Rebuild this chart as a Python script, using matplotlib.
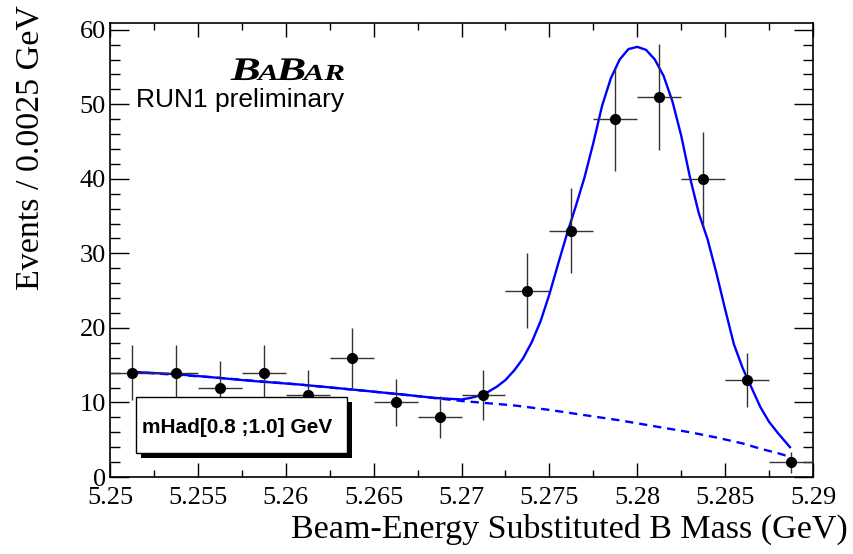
import numpy as np
import matplotlib
matplotlib.use("Agg")
import matplotlib.pyplot as plt
from matplotlib.ticker import MultipleLocator, FixedLocator, FixedFormatter
from matplotlib.textpath import TextPath
from matplotlib.patches import PathPatch, Rectangle
from matplotlib.font_manager import FontProperties
from matplotlib.transforms import Affine2D

# data points (bin centres, 0.0025 GeV bins)
mes = [5.25125, 5.25375, 5.25625, 5.25875, 5.26125, 5.26375, 5.26625, 5.26875,
       5.27125, 5.27375, 5.27625, 5.27875, 5.28125, 5.28375, 5.28625, 5.28875]
events = [14, 14, 12, 14, 11, 16, 10, 8, 11, 25, 33, 48, 51, 40, 13, 2]
err_y = [3.7, 3.7, 3.5, 3.7, 3.3, 4.0, 3.2, 2.8, 3.3, 5.0, 5.7, 6.9, 7.1, 6.3, 3.6, 1.4]
err_x = 0.00125

# fitted curve (signal + background)
fit_x = [5.25125, 5.2537, 5.2557, 5.2580, 5.2608, 5.2635, 5.2665, 5.2685,
         5.2700, 5.2705, 5.2710, 5.2715, 5.2720, 5.2725, 5.2730, 5.2735,
         5.2740, 5.2745, 5.2750, 5.2755, 5.2760, 5.2765, 5.2770, 5.2775,
         5.2780, 5.2785, 5.2790, 5.2795, 5.2800, 5.2805, 5.2810, 5.2815,
         5.2820, 5.2825, 5.2830, 5.2835, 5.2840, 5.2845, 5.2850, 5.2855,
         5.2860, 5.2865, 5.2870, 5.2875, 5.2880, 5.28869]
fit_y = [14.1, 13.8, 13.4, 12.9, 12.4, 11.8, 11.1, 10.6,
         10.4, 10.6, 10.9, 11.4, 12.1, 13.0, 14.3, 15.9,
         18.1, 20.9, 24.5, 28.6, 32.6, 36.3, 40.2, 44.8,
         49.8, 53.5, 56.0, 57.4, 57.7, 57.3, 56.0, 53.8,
         50.4, 45.8, 40.2, 35.4, 31.9, 27.4, 22.5, 17.8,
         14.6, 12.0, 9.4, 7.4, 5.9, 4.0]

# background component (dashed)
bkg_x = [5.25125, 5.2557, 5.2608, 5.2665, 5.2700, 5.2730, 5.2750, 5.2770,
         5.2790, 5.2810, 5.2830, 5.2845, 5.2860, 5.2870, 5.2880, 5.28869]
bkg_y = [14.1, 13.4, 12.4, 11.1, 10.2, 9.6, 9.0, 8.3,
         7.6, 6.8, 6.0, 5.3, 4.5, 3.8, 3.2, 2.7]

x_ticks = [5.25, 5.255, 5.26, 5.265, 5.27, 5.275, 5.28, 5.285, 5.29]
x_labels = ["5.25", "5.255", "5.26", "5.265", "5.27", "5.275", "5.28", "5.285", "5.29"]
y_ticks = [0, 10, 20, 30, 40, 50, 60]
y_labels = ["0", "10", "20", "30", "40", "50", "60"]

W, H = 854, 554
fig = plt.figure(figsize=(W / 100, H / 100), dpi=100)
ax = fig.add_axes([110 / W, 1 - 477 / H, (813 - 110) / W, (477 - 23) / H])

ax.plot(bkg_x, bkg_y, color="#0000ff", lw=1.7, ls=(0, (3.5, 2.5)))
ax.plot(fit_x, fit_y, color="#0000ff", lw=1.7)
ax.errorbar(mes, events, xerr=err_x, yerr=err_y, fmt="o", color="black",
            ecolor="#333333", elinewidth=1.0, capsize=0, ms=7, zorder=5)

ax.set_xlim(5.25, 5.29)
ax.set_ylim(0, 60.9)

serif = "Liberation Serif"
ax.xaxis.set_major_locator(FixedLocator(x_ticks))
ax.xaxis.set_major_formatter(FixedFormatter(x_labels))
ax.xaxis.set_minor_locator(MultipleLocator(0.0025))
ax.yaxis.set_major_locator(FixedLocator(y_ticks))
ax.yaxis.set_major_formatter(FixedFormatter(y_labels))
ax.yaxis.set_minor_locator(MultipleLocator(2))
ax.tick_params(axis="both", which="both", direction="in", top=True, right=True,
               colors="black", width=1.0)
ax.tick_params(axis="x", which="major", length=10, pad=7)
ax.tick_params(axis="x", which="minor", length=5)
ax.tick_params(axis="y", which="major", length=14, pad=3)
ax.tick_params(axis="y", which="minor", length=7)
for lab in ax.get_xticklabels() + ax.get_yticklabels():
    lab.set_fontfamily(serif)
    lab.set_fontsize(19)
for lab in ax.get_yticklabels():
    lab.set_verticalalignment("center_baseline")
for sp in ax.spines.values():
    sp.set_linewidth(1.2)

fig.text(848 / W, 1 - 538 / H, "Beam-Energy Substituted B Mass (GeV)",
         family=serif, fontsize=24.5, ha="right", va="baseline")
fig.text(39 / W, 1 - 5 / H, "Events / 0.0025 GeV", family=serif, fontsize=24.5,
         rotation=90, rotation_mode="anchor", ha="right", va="baseline")

# BaBar logo, stretched bold italic
pix = Affine2D().scale(1 / W, 1 / H) + fig.transFigure
fp = FontProperties(family=serif, weight="bold", style="italic")
sx = 1.35
x0 = 231
for s, size in [("B", 33), ("A", 23), ("B", 33), ("AR", 23)]:
    tp = TextPath((0, 0), s, size=size, prop=fp)
    tr = Affine2D().scale(sx, 1).translate(x0, H - 80) + pix
    fig.add_artist(PathPatch(tp, transform=tr, fc="black", ec="none"))
    x0 += tp.get_extents().x1 * sx - 1

fig.text(136 / W, 1 - 107 / H, "RUN1 preliminary", family="Liberation Sans",
         fontsize=19, ha="left", va="baseline")

# label box with shadow
fig.add_artist(Rectangle((141 / W, 1 - 458 / H), 211 / W, 56 / H,
                         transform=fig.transFigure, fc="black", ec="none"))
fig.add_artist(Rectangle((136 / W, 1 - 453 / H), 211 / W, 56 / H,
                         transform=fig.transFigure, fc="white", ec="black", lw=1.0))
fig.text(142 / W, 1 - 433 / H, "mHad[0.8 ;1.0] GeV", family="Liberation Sans",
         weight="bold", fontsize=15, ha="left", va="baseline")

fig.savefig("out.png", dpi=100)
